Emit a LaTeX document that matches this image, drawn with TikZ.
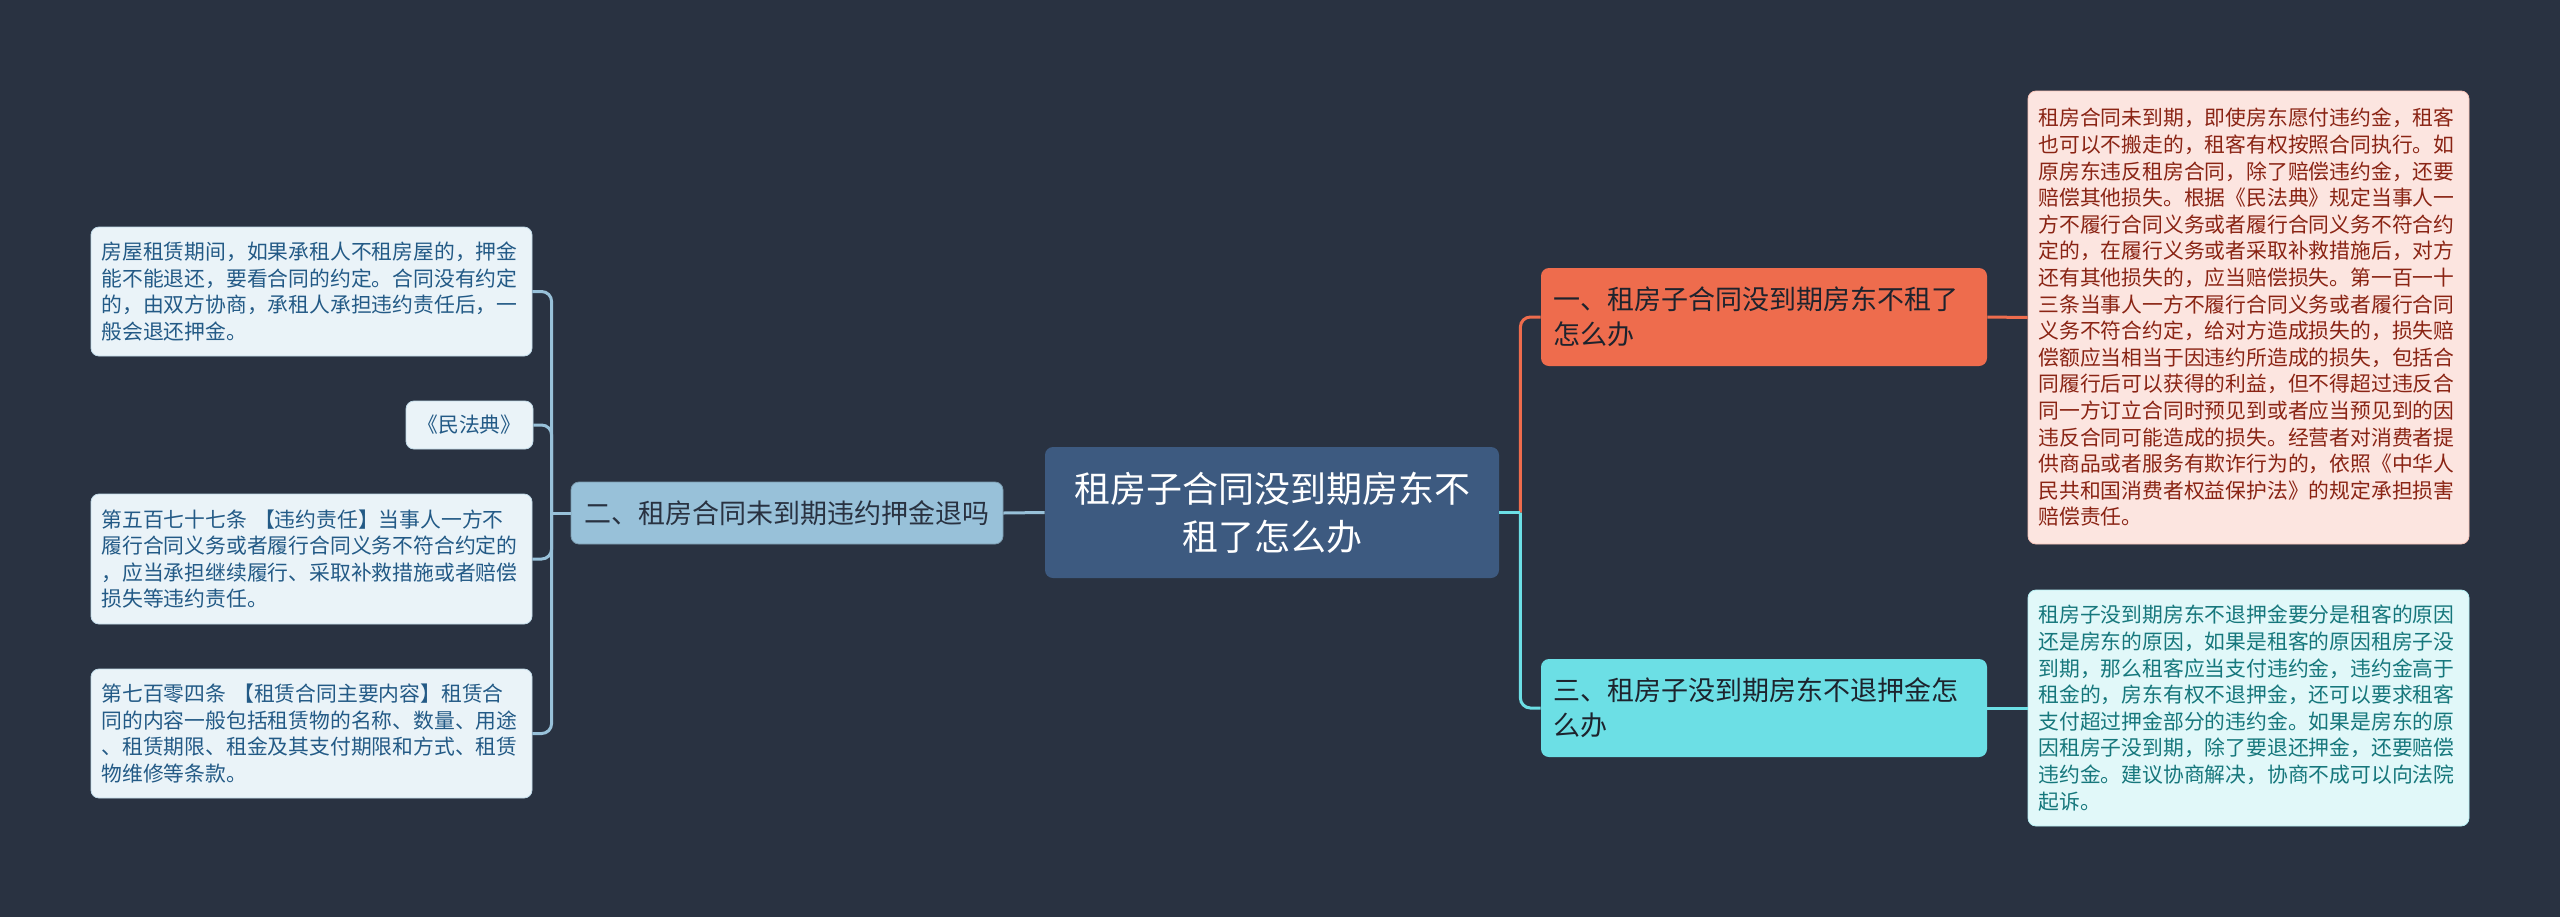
\documentclass[tikz,border=0pt]{standalone}
\usepackage{fontspec}
\usepackage{tikz}
\usetikzlibrary{positioning, calc}
\newfontfamily\cjk{Noto Sans CJK SC}

\definecolor{bgdark}{HTML}{293241}
\definecolor{rootblue}{HTML}{3D5A80}
\definecolor{paleblue}{HTML}{98C1D9}
\definecolor{leafblue}{HTML}{EAF3F8}
\definecolor{inkblue}{HTML}{235A86}
\definecolor{coral}{HTML}{EE6C4D}
\definecolor{leafcoral}{HTML}{FCE5E0}
\definecolor{inkred}{HTML}{8A2414}
\definecolor{aqua}{HTML}{6CDFE5}
\definecolor{leafaqua}{HTML}{E1F8F9}
\definecolor{inkteal}{HTML}{16777C}

\tikzset{
  box/.style={rectangle, rounded corners=4pt, inner ysep=3pt, inner xsep=5.25pt},
  leaf/.style={box, font=\cjk\fontsize{10.4pt}{13.3pt}\selectfont, align=left, text width=210pt},
  sec/.style={box, font=\cjk\fontsize{13.5pt}{17.5pt}\selectfont, inner xsep=6pt},
  link/.style={line width=1.5pt}
}

\begin{document}
\begin{tikzpicture}[x=0.5pt, y=-0.5pt]
    % background
    \fill[bgdark] (0,0) rectangle (2560,917);
    \useasboundingbox (0,0) rectangle (2560,917);

    % Nodes
    \node[box, fill=rootblue, text=white, align=center, font=\cjk\fontsize{18pt}{24pt}\selectfont,
          minimum width=227pt, minimum height=65.5pt] (root) at (1272,512.5)
          {租房子合同没到期房东不\\租了怎么办};

    \node[sec, fill=paleblue, draw=paleblue!80!black, line width=0.4pt, text=bgdark,
          minimum width=216pt, minimum height=31pt] (sec2) at (787,513)
          {二、租房合同未到期违约押金退吗};

    \node[sec, fill=coral, text=bgdark!70!black, align=left, text width=211pt,
          minimum height=49pt] (sec1) at (1764,317)
          {一、租房子合同没到期房东不租了\\怎么办};

    \node[sec, fill=aqua, text=bgdark!70!black, align=left, text width=211pt,
          minimum height=49pt] (sec3) at (1764,708)
          {三、租房子没到期房东不退押金怎\\么办};

    % right notes
    \node[leaf, fill=leafcoral, draw=coral!40, line width=0.4pt, text=inkred,
          minimum height=226.5pt] (note1) at (2248.5,317.5)
          {租房合同未到期，即使房东愿付违约金，租客\\
           也可以不搬走的，租客有权按照合同执行。如\\
           原房东违反租房合同，除了赔偿违约金，还要\\
           赔偿其他损失。根据《民法典》规定当事人一\\
           方不履行合同义务或者履行合同义务不符合约\\
           定的，在履行义务或者采取补救措施后，对方\\
           还有其他损失的，应当赔偿损失。第一百一十\\
           三条当事人一方不履行合同义务或者履行合同\\
           义务不符合约定，给对方造成损失的，损失赔\\
           偿额应当相当于因违约所造成的损失，包括合\\
           同履行后可以获得的利益，但不得超过违反合\\
           同一方订立合同时预见到或者应当预见到的因\\
           违反合同可能造成的损失。经营者对消费者提\\
           供商品或者服务有欺诈行为的，依照《中华人\\
           民共和国消费者权益保护法》的规定承担损害\\
           赔偿责任。};

    \node[leaf, fill=leafaqua, draw=aqua!50, line width=0.4pt, text=inkteal,
          minimum height=118pt] (note3) at (2248.5,708)
          {租房子没到期房东不退押金要分是租客的原因\\
           还是房东的原因，如果是租客的原因租房子没\\
           到期，那么租客应当支付违约金，违约金高于\\
           租金的，房东有权不退押金，还可以要求租客\\
           支付超过押金部分的违约金。如果是房东的原\\
           因租房子没到期，除了要退还押金，还要赔偿\\
           违约金。建议协商解决，协商不成可以向法院\\
           起诉。};

    % left notes
    \node[leaf, fill=leafblue, draw=paleblue!60, line width=0.4pt, text=inkblue,
          minimum height=64.5pt] (note2a) at (311.5,291.5)
          {房屋租赁期间，如果承租人不租房屋的，押金\\
           能不能退还，要看合同的约定。合同没有约定\\
           的，由双方协商，承租人承担违约责任后，一\\
           般会退还押金。};

    \node[box, fill=leafblue, draw=paleblue!60, line width=0.4pt, text=inkblue,
          font=\cjk\fontsize{10.4pt}{13.3pt}\selectfont,
          minimum width=63.5pt, minimum height=24pt] (note2b) at (469.5,425)
          {《民法典》};

    \node[leaf, fill=leafblue, draw=paleblue!60, line width=0.4pt, text=inkblue,
          minimum height=65pt] (note2c) at (311.5,559)
          {第五百七十七条 【违约责任】当事人一方不\\
           履行合同义务或者履行合同义务不符合约定的\\
           ，应当承担继续履行、采取补救措施或者赔偿\\
           损失等违约责任。};

    \node[leaf, fill=leafblue, draw=paleblue!60, line width=0.4pt, text=inkblue,
          minimum height=64.5pt] (note2d) at (311.5,733.5)
          {第七百零四条 【租赁合同主要内容】租赁合\\
           同的内容一般包括租赁物的名称、数量、用途\\
           、租赁期限、租金及其支付期限和方式、租赁\\
           物维修等条款。};

    % Edges
    % root to sec2, sec2 to left notes
    \draw[link, paleblue] (root.west) -- (sec2.east);
    \draw[link, paleblue] (sec2.west) -- ++(-19,0) coordinate (ljoint);
    \draw[link, paleblue, rounded corners=5pt] (ljoint) |- (note2a.east);
    \draw[link, paleblue, rounded corners=5pt] (ljoint) |- (note2b.east);
    \draw[link, paleblue, rounded corners=5pt] (ljoint) |- (note2c.east);
    \draw[link, paleblue, rounded corners=5pt] (ljoint) |- (note2d.east);

    % root to sec1 and sec3
    \draw[link, coral] (root.east) -- ++(21,0) coordinate (rjoint);
    \draw[link, coral, rounded corners=5pt] (rjoint) |- (sec1.west);
    \draw[link, aqua] (root.east) -- (rjoint);
    \draw[link, aqua, rounded corners=5pt] (rjoint) |- (sec3.west);

    % sections to right notes
    \draw[link, coral] (sec1.east) -- (note1.west);
    \draw[link, aqua] (sec3.east) -- (note3.west);
\end{tikzpicture}
\end{document}
